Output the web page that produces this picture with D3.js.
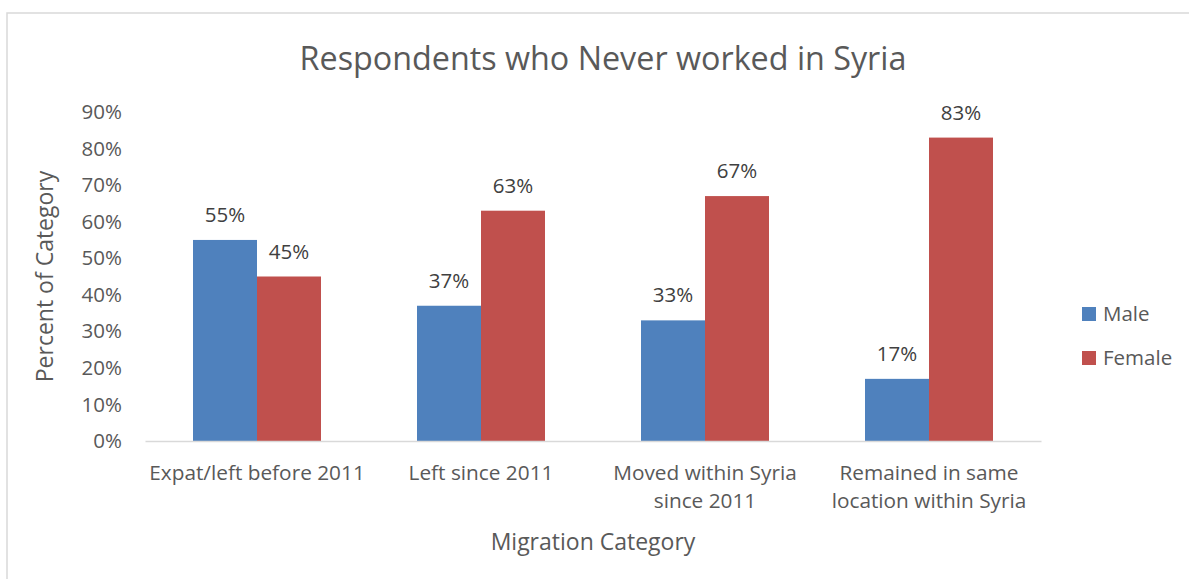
<!DOCTYPE html>
<html>
<head>
<meta charset="utf-8">
<script src="https://cdn.jsdelivr.net/npm/d3@7"></script>
<style>
  html, body { margin: 0; padding: 0; background: #ffffff; }
  svg { display: block; font-family: "Open Sans", "Noto Sans", sans-serif; }
</style>
</head>
<body>
<svg id="chart" width="1189" height="579"></svg>
<script>
// Migration categories (two-line labels split on "\n")
const categories = [
  "Expat/left before 2011",
  "Left since 2011",
  "Moved within Syria\nsince 2011",
  "Remained in same\nlocation within Syria"
];
const seriesNames = ["Male", "Female"];
const maleValues = [55, 37, 33, 17];
const femaleValues = [45, 63, 67, 83];
const yTicks = [0, 10, 20, 30, 40, 50, 60, 70, 80, 90];

const colors = { Male: "#4f81bd", Female: "#c0504d" };
const textColor = "#595959";
const lineColor = "#d9d9d9";

const svg = d3.select("#chart");

// Outer chart frame
svg.append("rect")
  .attr("x", 7).attr("y", 13)
  .attr("width", 1200).attr("height", 600)
  .attr("fill", "#ffffff")
  .attr("stroke", lineColor).attr("stroke-width", 1.5);

const plot = { left: 145, right: 1041, top: 112, bottom: 441 };

const x0 = d3.scaleBand()
  .domain(categories)
  .range([plot.left, plot.right])
  .paddingInner(0.4286)
  .paddingOuter(0.2143);

const x1 = d3.scaleBand()
  .domain(seriesNames)
  .range([0, x0.bandwidth()]);

const y = d3.scaleLinear()
  .domain([0, 90])
  .range([plot.bottom, plot.top]);

const rows = categories.map((c, i) => ({
  category: c,
  values: [
    { series: "Male", value: maleValues[i] },
    { series: "Female", value: femaleValues[i] }
  ]
}));

// Title
svg.append("text")
  .attr("x", 603).attr("y", 70)
  .attr("text-anchor", "middle")
  .attr("font-size", 32.3)
  .attr("fill", textColor)
  .text("Respondents who Never worked in Syria");

// Y axis (labels only, no line or ticks)
const yAxis = svg.append("g")
  .attr("transform", `translate(${plot.left},0)`)
  .call(d3.axisLeft(y).tickValues(yTicks).tickFormat(d => d + "%").tickSize(0).tickPadding(23));
yAxis.select(".domain").remove();
yAxis.selectAll("text")
  .attr("font-family", "Open Sans, sans-serif")
  .attr("font-size", 20.5)
  .attr("fill", textColor);

// Bars
const groups = svg.append("g").selectAll("g")
  .data(rows)
  .join("g")
  .attr("transform", d => `translate(${x0(d.category)},0)`);

groups.selectAll("rect")
  .data(d => d.values)
  .join("rect")
  .attr("x", d => x1(d.series))
  .attr("y", d => y(d.value))
  .attr("width", x1.bandwidth())
  .attr("height", d => y(0) - y(d.value))
  .attr("fill", d => colors[d.series]);

// Value labels above each bar
groups.selectAll("text.value")
  .data(d => d.values)
  .join("text")
  .attr("class", "value")
  .attr("x", d => x1(d.series) + x1.bandwidth() / 2)
  .attr("y", d => y(d.value) - 18)
  .attr("text-anchor", "middle")
  .attr("font-size", 20.5)
  .attr("fill", "#404040")
  .text(d => d.value + "%");

// X axis baseline
const xAxis = svg.append("g")
  .attr("transform", `translate(0,${plot.bottom})`)
  .call(d3.axisBottom(x0).tickSize(0).tickFormat(""));
xAxis.select(".domain")
  .attr("stroke", lineColor)
  .attr("stroke-width", 1.3);

// Category labels (multi-line)
xAxis.selectAll(".tick").each(function(d) {
  const t = d3.select(this).select("text")
    .attr("y", 0).attr("dy", null)
    .attr("font-family", "Open Sans, sans-serif")
    .attr("font-size", 20.8)
    .attr("fill", textColor)
    .attr("text-anchor", "middle");
  d.split("\n").forEach((line, i) => {
    t.append("tspan").attr("x", 0).attr("y", 39 + i * 28).text(line);
  });
});

// Axis titles
svg.append("text")
  .attr("x", 593).attr("y", 550)
  .attr("text-anchor", "middle")
  .attr("font-size", 23)
  .attr("fill", textColor)
  .text("Migration Category");

svg.append("text")
  .attr("transform", `translate(53,${(plot.top + plot.bottom) / 2}) rotate(-90)`)
  .attr("text-anchor", "middle")
  .attr("font-size", 23)
  .attr("fill", textColor)
  .text("Percent of Category");

// Legend
const legend = svg.append("g").selectAll("g")
  .data(seriesNames)
  .join("g")
  .attr("transform", (d, i) => `translate(1082,${307 + i * 44})`);
legend.append("rect")
  .attr("width", 14).attr("height", 14)
  .attr("fill", d => colors[d]);
legend.append("text")
  .attr("x", 21).attr("y", 7)
  .attr("dy", "0.35em")
  .attr("font-size", 20.5)
  .attr("fill", textColor)
  .text(d => d);
</script>
</body>
</html>
